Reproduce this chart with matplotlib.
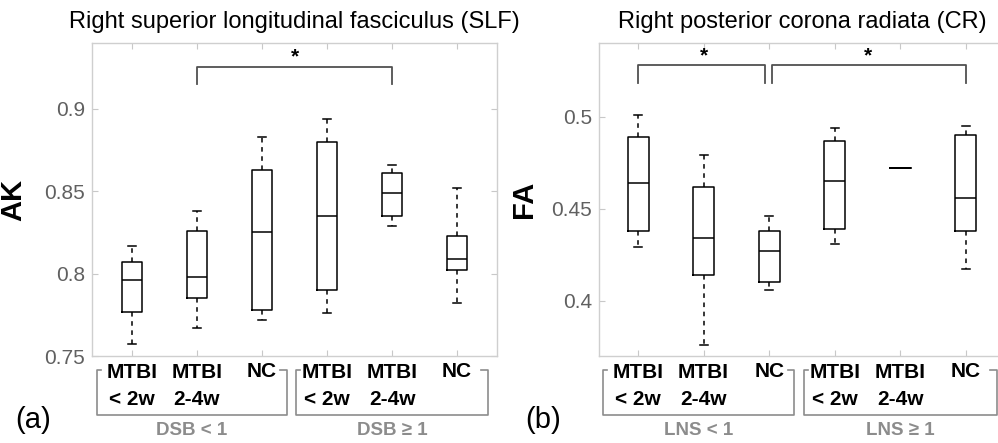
import matplotlib
matplotlib.use("Agg")
import matplotlib.pyplot as plt
from matplotlib.ticker import FuncFormatter

plt.rcParams["font.family"] = ["Liberation Sans", "DejaVu Sans"]

# Box statistics: lower whisker, Q1, median, Q3, upper whisker
ak_lo = [0.757, 0.767, 0.772, 0.776, 0.829, 0.782]
ak_q1 = [0.777, 0.785, 0.778, 0.790, 0.835, 0.802]
ak_med = [0.796, 0.798, 0.825, 0.835, 0.849, 0.809]
ak_q3 = [0.807, 0.826, 0.863, 0.880, 0.861, 0.823]
ak_hi = [0.817, 0.838, 0.883, 0.894, 0.866, 0.852]

fa_lo = [0.429, 0.376, 0.406, 0.431, 0.472, 0.417]
fa_q1 = [0.438, 0.414, 0.410, 0.439, 0.472, 0.438]
fa_med = [0.464, 0.434, 0.427, 0.465, 0.472, 0.456]
fa_q3 = [0.489, 0.462, 0.438, 0.487, 0.472, 0.490]
fa_hi = [0.501, 0.479, 0.446, 0.494, 0.472, 0.495]

groups = ["MTBI\n< 2w", "MTBI\n2-4w", "NC", "MTBI\n< 2w", "MTBI\n2-4w", "NC"]
left_title = "Right superior longitudinal fasciculus (SLF)"
right_title = "Right posterior corona radiata (CR)"
left_groups = ["DSB < 1", "DSB ≥ 1"]
right_groups = ["LNS < 1", "LNS ≥ 1"]

fig = plt.figure(figsize=(9.98, 4.43), dpi=100)
W, H = 998, 443


def px_axes(x0, x1, y0, y1):
    return fig.add_axes([x0 / W, 1 - y1 / H, (x1 - x0) / W, (y1 - y0) / H])


def draw_panel(ax, lo, q1, med, q3, hi, ylim, yticks, ylabel, title, grp,
               brackets, xlim):
    stats = [dict(whislo=a, q1=b, med=c, q3=d, whishi=e)
             for a, b, c, d, e in zip(lo, q1, med, q3, hi)]
    pos = list(range(1, len(stats) + 1))
    ax.bxp(stats, positions=pos, widths=0.32, showfliers=False, capwidths=0.12,
           boxprops=dict(color="black", lw=1.1),
           medianprops=dict(color="black", lw=1.1),
           whiskerprops=dict(color="black", lw=1.1, linestyle=(0, (3, 3))),
           capprops=dict(color="black", lw=1.1))
    ax.set_xlim(*xlim)
    ax.set_ylim(*ylim)
    ax.set_yticks(yticks)
    ax.yaxis.set_major_formatter(FuncFormatter(lambda v, p: f"{v:g}"))
    ax.set_xticks(pos)
    ax.set_xticklabels([])
    ax.tick_params(axis="both", direction="in", length=4, color="#c8c8c8",
                   top=True, right=True, labelsize=15, labelcolor="#606060", pad=5)
    for s in ax.spines.values():
        s.set_color("#cfcfcf")
        s.set_linewidth(1.0)
    ax.set_ylabel(ylabel, fontsize=21, fontweight="bold")
    ax.set_title(title, fontsize=17, pad=11)

    # significance brackets
    for x0, x1, ytop, yleg, xs in brackets:
        ax.plot([x0, x0, x1, x1], [yleg, ytop, ytop, yleg], color="#505050", lw=1.3)
        ax.text(xs, ytop, "*", ha="center", va="bottom", fontsize=15,
                fontweight="bold")

    # category labels under the axes
    tr = ax.get_xaxis_transform()
    for p, g in zip(pos, groups):
        if g == "NC":
            ax.text(p, -0.05, g, transform=tr, ha="center", va="center",
                    fontsize=15, fontweight="bold", clip_on=False)
        else:
            top, bot = g.split("\n")
            ax.text(p, -0.053, top, transform=tr, ha="center", va="center",
                    fontsize=15, fontweight="bold", clip_on=False)
            ax.text(p, -0.138, bot, transform=tr, ha="center", va="center",
                    fontsize=15, fontweight="bold", clip_on=False)
    for (x0, x1), name in zip([(0.46, 3.38), (3.53, 6.47)], grp):
        ax.plot([x0 + 0.06, x0, x0, x1, x1, x1 - 0.1],
                [-0.045, -0.045, -0.188, -0.188, -0.045, -0.045],
                transform=tr, color="#8c8c8c", lw=1.2, clip_on=False)
        ax.text((x0 + x1) / 2, -0.238, name, transform=tr, ha="center",
                va="center", fontsize=13.5, fontweight="bold", color="#8c8c8c",
                clip_on=False)
    return ax


axL = px_axes(92, 497, 43, 356)
draw_panel(axL, ak_lo, ak_q1, ak_med, ak_q3, ak_hi, (0.75, 0.94),
           [0.75, 0.8, 0.85, 0.9], "AK", left_title, left_groups,
           [(2, 5, 0.9256, 0.915, 3.5)], (0.385, 6.615))
axL.yaxis.set_label_coords(-0.16, 0.5)

axR = px_axes(599, 1005, 43, 356)
draw_panel(axR, fa_lo, fa_q1, fa_med, fa_q3, fa_hi, (0.37, 0.54),
           [0.4, 0.45, 0.5], "FA", right_title, right_groups,
           [(1, 2.94, 0.5278, 0.5182, 2.0), (3.04, 6, 0.5278, 0.5182, 4.5)],
           (0.405, 6.595))
axR.yaxis.set_label_coords(-0.15, 0.5)

fig.text(33 / W, 1 - 420 / H, "(a)", fontsize=21, ha="center", va="center")
fig.text(543 / W, 1 - 420 / H, "(b)", fontsize=21, ha="center", va="center")

fig.savefig("out.png", dpi=100)
